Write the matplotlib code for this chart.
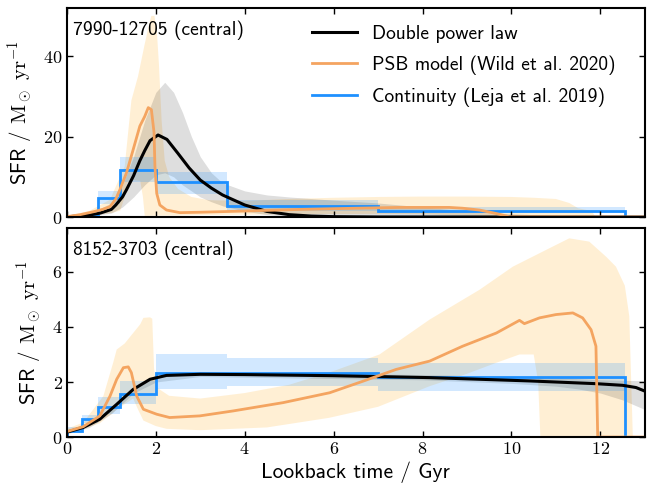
import matplotlib.pyplot as plt
import numpy as np

plt.rcParams['mathtext.fontset'] = 'cm'
plt.rcParams['font.family'] = 'cmss10'
plt.rcParams['axes.formatter.use_mathtext'] = True

# ---- 7990-12705 (top) ----
dpl1_t = [0, 0.5, 0.75, 1.0, 1.1, 1.25, 1.34, 1.5, 1.64, 1.75, 1.87, 2.05, 2.25, 2.5, 2.75, 3.0, 3.25, 3.5, 4.0, 4.5, 5.0, 5.5, 6.0, 7.0, 13.0]
dpl1_sfr = [0.05, 0.5, 1.0, 1.9, 3.0, 5.0, 6.8, 10.3, 14.0, 16.5, 19.0, 20.4, 19.3, 15.8, 12.2, 9.2, 7.2, 5.5, 3.0, 1.4, 0.6, 0.25, 0.1, 0.02, 0.0]
dpl1_band_t = [0, 0.5, 1.0, 1.25, 1.5, 1.75, 2.0, 2.2, 2.4, 2.6, 2.8, 3.0, 3.25, 3.5, 4.0, 4.5, 5.0, 6.0, 7.0, 8.0, 9.0, 10.0, 11.0, 13.0]
dpl1_hi = [0.1, 0.8, 3.5, 8.0, 15.0, 24.0, 31.0, 33.5, 31.0, 26.0, 20.0, 15.0, 11.0, 8.5, 6.5, 5.5, 5.0, 4.2, 3.5, 2.5, 1.5, 0.8, 0.4, 0.1]
dpl1_lo = [0.0, 0.2, 1.0, 2.5, 5.0, 8.0, 10.5, 11.0, 10.0, 8.0, 6.5, 5.0, 3.8, 2.8, 1.5, 0.6, 0.2, 0.05, 0.0, 0.0, 0.0, 0.0, 0.0, 0.0]

psb1_t = [0, 0.3, 0.59, 0.8, 0.97, 1.1, 1.19, 1.34, 1.49, 1.64, 1.75, 1.83, 1.9, 1.96, 1.98, 2.02, 2.09, 2.24, 2.54, 3.0, 4.0, 5.24, 6.5, 7.48, 8.16, 8.6, 8.9, 9.28, 9.65, 9.96, 13.0]
psb1_sfr = [0.1, 0.6, 1.3, 1.9, 2.6, 4.5, 6.75, 11.0, 16.75, 22.6, 25.0, 27.2, 26.7, 21.0, 12.6, 5.9, 3.0, 1.75, 1.1, 1.2, 1.5, 1.9, 2.2, 2.4, 2.4, 2.4, 2.2, 1.75, 0.9, 0.05, 0.0]
psb1_hi_t = [0, 0.5, 0.97, 1.3, 1.45, 1.6, 1.75, 1.85, 1.9, 1.97, 2.03, 2.07, 2.13, 2.2, 2.3, 2.5, 2.8, 3.2, 4.0, 5.0, 6.0, 7.0, 8.0, 9.0, 10.0, 10.5, 11.0, 11.3, 11.5, 11.8, 11.9]
psb1_hi = [0.2, 1.5, 4.3, 12.6, 29.0, 35.0, 43.0, 48.0, 50.0, 50.0, 45.0, 38.0, 24.0, 14.0, 10.0, 7.0, 5.0, 4.2, 4.0, 4.5, 4.8, 5.0, 5.1, 5.1, 5.0, 4.8, 4.5, 3.5, 2.2, 1.5, 0.0]
psb1_lo_t = [0, 0.5, 1.0, 1.2, 1.3, 1.35, 1.5, 1.65, 1.71, 1.75, 2.5, 3.0, 5.0, 7.0, 8.0, 9.0, 9.5, 11.9]
psb1_lo = [0.0, 0.3, 1.0, 1.6, 5.0, 8.5, 9.2, 9.0, 5.0, 0.3, 0.4, 0.5, 0.7, 0.8, 0.7, 0.3, 0.0, 0.0]

cont_edges = [0, 0.35, 0.7, 1.2, 2.0, 3.6, 7.0, 12.55]
cont1_sfr = [0.1, 0.15, 4.8, 11.6, 8.7, 2.75, 1.4]
cont1_lo = [0.0, 0.05, 3.2, 8.6, 5.8, 1.5, 0.9]
cont1_hi = [0.3, 0.5, 6.6, 15.0, 11.3, 4.2, 2.4]

# ---- 8152-3703 (bottom) ----
dpl2_t = [0, 0.37, 0.74, 1.12, 1.49, 1.87, 2.24, 3.0, 4.0, 6.0, 8.16, 10.4, 11.9, 12.5, 12.8, 13.0]
dpl2_sfr = [0.18, 0.35, 0.65, 1.19, 1.73, 2.1, 2.24, 2.28, 2.27, 2.23, 2.16, 2.04, 1.94, 1.88, 1.8, 1.67]
dpl2_band_t = [0, 0.5, 1.0, 1.5, 2.0, 3.0, 5.0, 8.0, 10.0, 11.0, 11.5, 12.0, 12.5, 13.0]
dpl2_hi = [0.25, 0.55, 1.05, 1.85, 2.25, 2.37, 2.33, 2.27, 2.2, 2.15, 2.12, 2.08, 2.06, 2.05]
dpl2_lo = [0.12, 0.35, 0.85, 1.6, 2.0, 2.2, 2.15, 2.08, 1.95, 1.85, 1.75, 1.6, 1.35, 1.0]

psb2_t = [0, 0.37, 0.74, 0.97, 1.12, 1.27, 1.38, 1.45, 1.57, 1.72, 2.02, 2.31, 2.99, 3.74, 4.86, 5.91, 6.66, 7.41, 8.16, 8.9, 9.66, 10.18, 10.29, 10.63, 11.0, 11.38, 11.6, 11.79, 11.9, 11.94, 13.0]
psb2_sfr = [0.2, 0.38, 0.77, 1.49, 2.1, 2.52, 2.55, 2.34, 1.49, 1.01, 0.83, 0.71, 0.77, 0.95, 1.25, 1.61, 2.03, 2.46, 2.76, 3.3, 3.78, 4.24, 4.12, 4.33, 4.45, 4.51, 4.33, 3.9, 3.3, 0.0, 0.0]
psb2_hi_t = [0, 0.37, 0.82, 1.04, 1.12, 1.3, 1.49, 1.65, 1.72, 1.87, 1.92, 1.96, 2.02, 2.3, 3.0, 4.0, 5.0, 6.0, 7.03, 8.16, 9.28, 10.03, 10.78, 11.3, 11.75, 12.13, 12.35, 12.55, 12.65, 12.73]
psb2_hi = [0.3, 0.53, 1.49, 2.7, 3.18, 3.4, 3.78, 4.1, 4.33, 4.35, 4.3, 2.5, 1.8, 1.5, 1.4, 1.6, 1.9, 2.4, 3.0, 4.27, 5.35, 6.19, 6.8, 7.22, 7.1, 6.55, 6.19, 5.5, 4.39, 0.0]
psb2_lo_t = [0, 0.37, 0.74, 1.12, 1.49, 1.6, 1.72, 2.0, 2.24, 3.0, 4.5, 5.9, 7.0, 8.16, 9.0, 9.66, 10.18, 10.5, 10.6, 10.65, 12.73]
psb2_lo = [0.12, 0.3, 0.5, 1.0, 1.4, 1.0, 0.6, 0.4, 0.3, 0.25, 0.35, 0.7, 1.1, 1.85, 2.3, 2.7, 3.0, 3.0, 2.0, 0.0, 0.0]

cont2_sfr = [0.23, 0.65, 1.1, 1.58, 2.34, 2.31, 2.18]
cont2_lo = [0.15, 0.5, 0.83, 1.19, 1.76, 1.86, 1.67]
cont2_hi = [0.35, 0.8, 1.45, 2.03, 3.0, 2.88, 2.7]

c_psb = '#F4A460'
c_cont = '#1E90FF'

fig = plt.figure(figsize=(6.56, 4.9), dpi=100)
ax1 = fig.add_axes([0.102, 0.557, 0.881, 0.427])
ax2 = fig.add_axes([0.102, 0.108, 0.881, 0.427])


def band(ax, xh, yh, xl, yl, color, alpha):
    ax.fill(np.r_[xh, xl[::-1]], np.r_[yh, yl[::-1]], color=color, alpha=alpha, lw=0)


panels = [
    (ax1, '7990-12705 (central)', dpl1_t, dpl1_sfr, dpl1_band_t, dpl1_hi, dpl1_lo,
     psb1_t, psb1_sfr, psb1_hi_t, psb1_hi, psb1_lo_t, psb1_lo, cont1_sfr, cont1_lo, cont1_hi,
     52, [0, 20, 40]),
    (ax2, '8152-3703 (central)', dpl2_t, dpl2_sfr, dpl2_band_t, dpl2_hi, dpl2_lo,
     psb2_t, psb2_sfr, psb2_hi_t, psb2_hi, psb2_lo_t, psb2_lo, cont2_sfr, cont2_lo, cont2_hi,
     7.6, [0, 2, 4, 6]),
]

for (ax, name, dt, ds, bt, bh, bl, pt, ps, pht, ph, plt_, pl, cs, clo, chi, ytop, yt) in panels:
    band(ax, pht, ph, plt_, pl, '#FFA500', 0.17)
    ax.fill_between(bt, bl, bh, color='k', alpha=0.13, lw=0)
    ax.stairs(chi, cont_edges, baseline=clo, fill=True, color=c_cont, alpha=0.2, lw=0)
    ax.plot(dt, ds, color='k', lw=2.2, label='Double power law')
    ax.plot(pt, ps, color=c_psb, lw=2, label='PSB model (Wild et al. 2020)')
    ax.stairs(cs + [0], cont_edges + [13.0], color=c_cont, lw=2,
              label='Continuity (Leja et al. 2019)')
    ax.set_xlim(0, 13)
    ax.set_ylim(0, ytop)
    ax.set_yticks(yt)
    ax.set_xticks(range(0, 13, 2))
    ax.tick_params(direction='in', top=True, right=True, length=4, width=1,
                   labelsize=13, pad=3)
    for lab in ax.get_xticklabels() + ax.get_yticklabels():
        lab.set_fontfamily('cmr10')
    for s in ax.spines.values():
        s.set_linewidth(1.5)
    ax.set_ylabel('SFR / $\\mathrm{M_\\odot\\ yr^{-1}}$', fontsize=15, labelpad=5)
    ax.text(0.011, 0.94, name, transform=ax.transAxes, va='top', ha='left', fontsize=14)

ax1.tick_params(labelbottom=False)
ax2.set_xlabel('Lookback time / Gyr', fontsize=15.5, labelpad=3)

h, l = ax1.get_legend_handles_labels()
h[2] = plt.Line2D([], [], color=c_cont, lw=2)
ax1.legend(h, l, loc='upper left', bbox_to_anchor=(0.424, 0.918), frameon=False,
           fontsize=14, handlelength=2.3, handletextpad=0.8, labelspacing=0.65,
           borderaxespad=0, borderpad=0)

fig.savefig('out.png', dpi=100)
